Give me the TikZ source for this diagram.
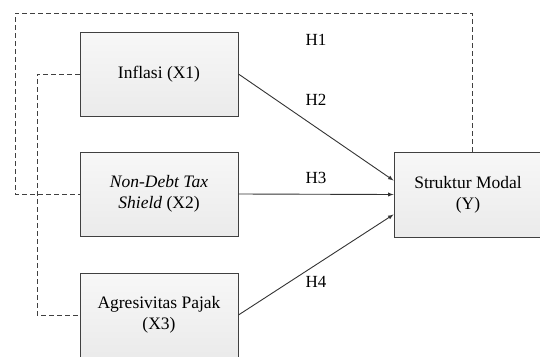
\documentclass[tikz,border=0pt]{standalone}
\usepackage{fontspec}
\setmainfont{Liberation Serif}
\usetikzlibrary{shadings}

\tikzset{
    varbox/.style={draw=black!75, line width=0.9pt, top color=black!3, bottom color=black!8,
        minimum width=158pt, minimum height=84pt, align=center,
        font=\fontsize{17.5}{21}\selectfont},
    hlabel/.style={font=\fontsize{17}{20}\selectfont},
    dashline/.style={draw=black!75, line width=0.9pt, dash pattern=on 5pt off 3pt},
    pathline/.style={draw=black!80, line width=0.9pt, -latex}
}

\begin{document}
\begin{tikzpicture}[x=1pt, y=-1pt]
\useasboundingbox (0, 0) rectangle (540, 356);

    \node[varbox] (x1) at (159, 74) {Inflasi (X1)};
    \node[varbox] (x2) at (159, 194) {\textit{Non-Debt Tax}\\\textit{Shield} (X2)};
    \node[varbox] (x3) at (159, 315) {Agresivitas Pajak\\(X3)};
    \node[varbox, minimum width=148pt, minimum height=85pt] (y) at (468, 194.5) {Struktur Modal\\(Y)};

    \node[hlabel] (h1) at (316, 40) {H1};
    \node[hlabel] (h2) at (316, 100) {H2};
    \node[hlabel] (h3) at (316, 178) {H3};
    \node[hlabel] (h4) at (316, 282) {H4};

    \draw[pathline] (x1.east) -- ([yshift=14pt]y.west);
    \draw[pathline] (x2.east) -- (y.west);
    \draw[pathline] (x3.east) -- ([yshift=-20pt]y.west);

    \draw[dashline] ([xshift=4pt]y.north) -- (472, 13) -- (15, 13) |- (x2.west);
    \draw[dashline] (x1.west) -- (37, 74) |- (x3.west);
\end{tikzpicture}
\end{document}
